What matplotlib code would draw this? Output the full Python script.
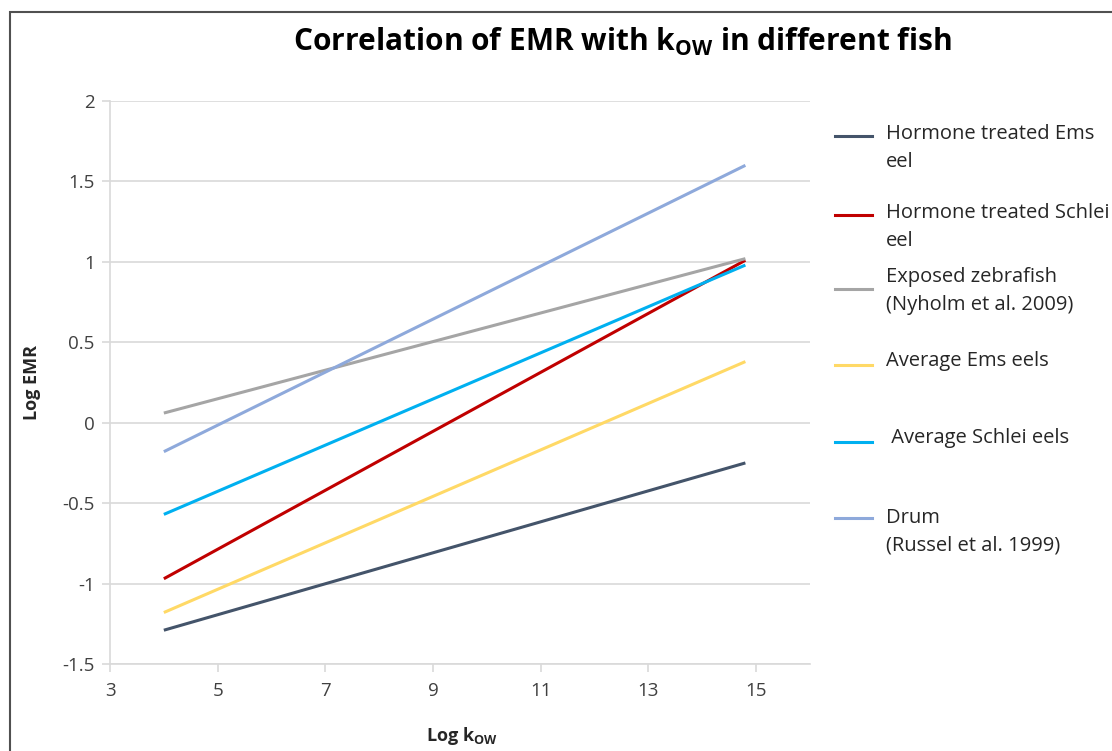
import matplotlib.pyplot as plt
from matplotlib.lines import Line2D
from matplotlib.patches import Rectangle

plt.rcParams['font.family'] = 'Open Sans'
plt.rcParams['mathtext.fontset'] = 'custom'
plt.rcParams['mathtext.rm'] = 'Open Sans'
plt.rcParams['mathtext.bf'] = 'Open Sans:bold'

# Data (fitted regression lines, start and end points)
log_kow = [4, 14.8]
hormone_ems = [-1.29, -0.25]
hormone_schlei = [-0.97, 1.01]
zebrafish = [0.06, 1.02]
avg_ems = [-1.18, 0.38]
avg_schlei = [-0.57, 0.98]
drum = [-0.18, 1.60]

series = [hormone_ems, hormone_schlei, zebrafish, avg_ems, avg_schlei, drum]
labels = ['Hormone treated Ems\neel', 'Hormone treated Schlei\neel',
          'Exposed zebrafish\n(Nyholm et al. 2009)', 'Average Ems eels',
          ' Average Schlei eels', 'Drum\n(Russel et al. 1999)']
colours = ['#44546A', '#C00000', '#A5A5A5', '#FFD966', '#00B0F0', '#8EA9DB']

x_ticks = [3, 5, 7, 9, 11, 13, 15]
y_ticks = [-1.5, -1, -0.5, 0, 0.5, 1, 1.5, 2]

W, H = 1112, 751
fig = plt.figure(figsize=(W / 100, H / 100), dpi=100)
ax = fig.add_axes([110 / W, 1 - 664 / H, 700 / W, 563 / H])

for values, colour in zip(series, colours):
    ax.plot(log_kow, values, color=colour, linewidth=2.2, solid_capstyle='butt')

ax.set_xlim(3, 16)
ax.set_ylim(-1.5, 2)
ax.set_xticks(x_ticks)
ax.set_yticks(y_ticks)
ax.set_yticklabels([('%g' % v) for v in y_ticks])
ax.grid(axis='y', color='#D9D9D9', linewidth=1.2)
ax.set_axisbelow(True)
for side in ['top', 'right']:
    ax.spines[side].set_visible(False)
for side in ['left', 'bottom']:
    ax.spines[side].set_color('#D9D9D9')
    ax.spines[side].set_linewidth(1.2)
ax.tick_params(axis='both', colors='#D9D9D9', labelcolor='#404040',
               labelsize=13.5, length=6, width=1.2)
ax.tick_params(axis='x', pad=7)
ax.tick_params(axis='y', pad=5)

fig.text(32 / W, 1 - 382 / H, 'Log EMR', rotation=90, ha='center', va='center',
         fontsize=13, fontweight='bold', color='#262626')
fig.text(462 / W, 1 - 736 / H, r'Log k$_{\mathbf{OW}}$', ha='center', va='center',
         fontsize=13, fontweight='bold', color='#262626')
fig.text(622 / W, 1 - 42 / H, r'Correlation of EMR with k$_{\mathbf{OW}}$ in different fish',
         ha='center', va='center', fontsize=21.5, fontweight='bold', color='black')

# Legend drawn by hand (positions in pixels)
text_y = [134, 213, 277, 361, 438, 518]
handle_y = [136, 215, 289, 365, 442, 518]
for label, colour, ty, hy in zip(labels, colours, text_y, handle_y):
    fig.add_artist(Line2D([835 / W, 872 / W], [1 - hy / H, 1 - hy / H],
                          color=colour, linewidth=2.2, transform=fig.transFigure))
    for i, part in enumerate(label.split('\n')):
        fig.text(886 / W, 1 - (ty + i * 28) / H, part, ha='left', va='center',
                 fontsize=14.5, color='#262626')

# Outer frame
fig.add_artist(Rectangle((10 / W, -0.1), 1.2, 1.1 - 12 / H, transform=fig.transFigure,
                         fill=False, edgecolor='#505050', linewidth=1.5))

fig.savefig('out.png', dpi=100)
